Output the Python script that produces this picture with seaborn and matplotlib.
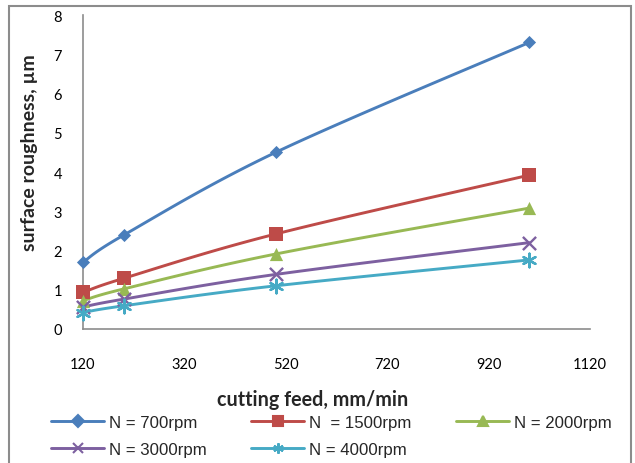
import numpy as np
import pandas as pd
import matplotlib
matplotlib.use("Agg")
import matplotlib.pyplot as plt
from matplotlib.lines import Line2D
from matplotlib.patches import Rectangle
import seaborn as sns

# данные
feed = [120, 200, 500, 1000]
speeds = ["N = 700rpm", "N  = 1500rpm", "N = 2000rpm", "N = 3000rpm", "N = 4000rpm"]
ra_700 = [1.70, 2.39, 4.50, 7.30]
ra_1500 = [0.93, 1.29, 2.42, 3.92]
ra_2000 = [0.72, 1.02, 1.91, 3.08]
ra_3000 = [0.56, 0.76, 1.39, 2.20]
ra_4000 = [0.42, 0.59, 1.10, 1.76]
x_ticks = [120, 320, 520, 720, 920, 1120]
y_ticks = [0, 1, 2, 3, 4, 5, 6, 7, 8]

colors = ["#4A7EBB", "#BE4B48", "#98B954", "#7D60A0", "#46AAC5"]
markers = ["D", "s", "^", "x", (6, 2, 0)]
msizes = [6.7, 10.5, 9.5, 9.5, 9.8]
leg_msizes = [6.5, 7.5, 7.5, 7, 7.5]

series = [ra_700, ra_1500, ra_2000, ra_3000, ra_4000]
df = pd.DataFrame({
    "feed": feed * len(speeds),
    "ra": [v for s in series for v in s],
    "speed": [name for name in speeds for _ in feed],
})


def smooth(xs, ys, sx, sy, n=40):
    # сглаживание как в Excel: кривые Безье с касательными Катмулла-Рома
    px = np.asarray(xs, float) * sx
    py = np.asarray(ys, float) * sy
    P = np.column_stack([px, py])
    P = np.vstack([P[0], P, P[-1]])
    out = []
    for i in range(1, len(P) - 2):
        p0, p1, p2, p3 = P[i - 1], P[i], P[i + 1], P[i + 2]
        c1 = p1 + (p2 - p0) / 6
        c2 = p2 - (p3 - p1) / 6
        t = np.linspace(0, 1, n)[:, None]
        b = (1 - t) ** 3 * p1 + 3 * (1 - t) ** 2 * t * c1 + 3 * (1 - t) * t ** 2 * c2 + t ** 3 * p2
        out.append(b)
    out = np.vstack(out)
    return out[:, 0] / sx, out[:, 1] / sy


sns.set_theme(style="white")
plt.rcParams["font.family"] = ["Lato", "DejaVu Sans"]

fig = plt.figure(figsize=(6.35, 4.64), dpi=100)
ax = fig.add_axes([0.1307, 0.2888, 0.7984, 0.6767])

for i, name in enumerate(speeds):
    sub = df[df["speed"] == name]
    sx_, sy_ = smooth(sub["feed"], sub["ra"], 0.505, 39.3)
    ax.plot(sx_, sy_, color=colors[i], lw=2.1, zorder=2)
    sns.scatterplot(data=sub, x="feed", y="ra", ax=ax, color=colors[i],
                    marker=markers[i], s=msizes[i] ** 2,
                    edgecolor=colors[i] if i < 3 else None,
                    linewidth=1.7 if i >= 3 else 0, zorder=3, legend=False,
                    clip_on=False)

ax.set_xlim(120, 1120)
ax.set_ylim(0, 8)
ax.set_xticks(x_ticks)
ax.set_yticks(y_ticks)
ax.set_xlabel("")
ax.set_ylabel("")
ax.xaxis.set_tick_params(length=0, labelsize=10.5, labelcolor="black", pad=20)
ax.yaxis.set_tick_params(length=0, labelsize=10.5, labelcolor="black", pad=15)
for side in ["top", "right"]:
    ax.spines[side].set_visible(False)
for side in ["left", "bottom"]:
    ax.spines[side].set_color("#8C8C8C")
    ax.spines[side].set_linewidth(1.2)

fig.text(313 / 635, 1 - 400 / 464, "cutting feed, mm/min", ha="center", va="center",
         fontsize=14.2, fontweight="bold")
fig.text(30 / 635, 1 - 153 / 464, "surface roughness, µm", ha="center", va="center",
         rotation=90, fontsize=14, fontweight="bold")

# легенда заполняется по строкам, как в Excel
order = [0, 3, 1, 4, 2]
handles = [Line2D([], [], color=colors[i], lw=2.1, marker=markers[i],
                  markersize=leg_msizes[i], markeredgewidth=1.5)
           for i in range(len(speeds))]
fig.legend([handles[i] for i in order], [speeds[i] for i in order],
           ncol=3, loc="upper left",
           bbox_to_anchor=(36 / 635, 1 - 400.5 / 464), frameon=False,
           prop={"family": ["Liberation Sans"], "size": 12.1},
           handlelength=3.15, handletextpad=0.3, columnspacing=2.65,
           labelspacing=0.71)

fig.patches.append(Rectangle((9 / 635, -0.1), 622 / 635, 1.1 - 7 / 464,
                             transform=fig.transFigure, fill=False,
                             edgecolor="#8C8C8C", lw=1.5))

fig.savefig("out.png", dpi=100)
